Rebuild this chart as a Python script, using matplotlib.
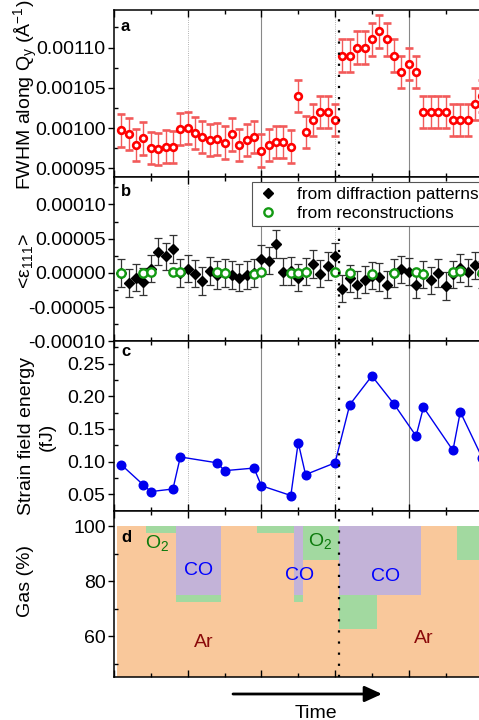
#!/usr/bin/env python3

#################################################################################################
#                                                                                               #
#       plot.py: four stacked panels - fwhm, mean strain, strain energy and gas composition     #
#                                                                                               #
#################################################################################################

import matplotlib as mpl
mpl.use('Agg')

import matplotlib.pyplot as plt
from matplotlib.lines import Line2D
from matplotlib.ticker import FixedLocator, MultipleLocator, FormatStrFormatter

#
#--- panel a: fwhm along qy (one point per time step)
#
a_time = list(range(1, 51))
a_fwhm = [0.000997, 0.000993, 0.000979, 0.000987, 0.000975, 0.000974, 0.000977, 0.000976,
          0.000999, 0.001000, 0.000994, 0.000989, 0.000985, 0.000986, 0.000982, 0.000992,
          0.000979, 0.000985, 0.000989, 0.000972, 0.000979, 0.000983, 0.000983, 0.000977,
          0.001040, 0.000995, 0.001010, 0.001020, 0.001020, 0.001010, 0.001090, 0.001090,
          0.001100, 0.001100, 0.001110, 0.001120, 0.001110, 0.001090, 0.001070, 0.001080,
          0.001070, 0.001020, 0.001020, 0.001020, 0.001020, 0.001010, 0.001010, 0.001010,
          0.001030, 0.001040]
a_err  = 0.00002
#
#--- panel b: mean strain from diffraction patterns and from reconstructions
#
b_time   = list(range(1, 51))
b_strain = [0.0, -1.5e-5, -0.7e-5, -1.3e-5, 0.6e-5, 3.1e-5, 2.4e-5, 3.5e-5, 0.0, 0.6e-5,
            -0.1e-5, -1.2e-5, 0.3e-5, -0.3e-5, 0.0, -0.3e-5, -0.7e-5, -0.3e-5, 0.0, 2.1e-5,
            1.8e-5, 4.2e-5, 0.2e-5, 0.3e-5, -0.7e-5, 0.2e-5, 1.3e-5, -0.1e-5, 1.0e-5, 2.4e-5,
            -2.3e-5, -0.8e-5, -1.7e-5, -1.0e-5, -0.4e-5, -0.6e-5, -1.7e-5, 0.0, 0.5e-5, 0.2e-5,
            -1.7e-5, -0.2e-5, -1.1e-5, 0.0, -1.9e-5, -0.2e-5, 0.7e-5, 0.1e-5, 1.1e-5, -0.2e-5]
b_err    = 0.00002

rec_time   = [1, 4, 5, 8, 9, 14, 15, 19, 20, 24, 25, 26, 30, 32, 35, 38, 41, 42, 46, 47, 50]
rec_strain = [0.0, 0.0, 0.1e-5, 0.1e-5, 0.1e-5, 0.1e-5, 0.0, -0.1e-5, 0.2e-5, 0.0, 0.0,
              0.1e-5, 0.1e-5, 0.0, -0.2e-5, 0.0, 0.1e-5, -0.1e-5, 0.1e-5, 0.3e-5, 0.0]
#
#--- panel c: strain field energy of the reconstructions
#
c_energy = [0.095, 0.064, 0.054, 0.058, 0.107, 0.098, 0.086, 0.090, 0.063, 0.048, 0.129,
            0.080, 0.098, 0.187, 0.231, 0.188, 0.139, 0.183, 0.117, 0.176, 0.105]
#
#--- panel d: gas composition (%) between switching times
#
gas_edges = [0.35, 4.3, 8.4, 14.5, 19.4, 24.4, 25.6, 30.5, 35.7, 41.7, 46.6, 56.0]
gas_ar    = [100, 97.5, 72.5, 100, 97.5, 72.5, 87.5, 62.5, 75, 100, 87.5]
gas_o2    = [0, 2.5, 2.5, 0, 2.5, 2.5, 12.5, 12.5, 0, 0, 12.5]
gas_co    = [0, 0, 25, 0, 0, 25, 0, 25, 25, 0, 0]

gas_names = ['O$_2$', 'CO', 'CO', 'O$_2$', 'CO', 'Ar', 'Ar']
gas_x     = [5.8, 11.5, 25.2, 28.0, 36.8, 12.2, 42.0]
gas_y     = [94.0, 83.8, 82.0, 94.6, 81.7, 57.5, 59.3]

switch_time = 30.5

#----------------------------------------------------------------------------------------------
#-- set_axis: common axis setting for all panels                                             --
#----------------------------------------------------------------------------------------------

def set_axis(ax, tag, tag_y, grid=True):
    """
    set x range, ticks, reference lines and the panel letter
    input:  ax      --- axis
            tag     --- panel letter
            tag_y   --- vertical position of the letter in axes coordinates
            grid    --- draw gray reference lines if True
    output: none
    """
    ax.set_xlim(0, 55)
    ax.xaxis.set_major_locator(MultipleLocator(10))
    ax.xaxis.set_minor_locator(MultipleLocator(5))
    ax.tick_params(axis='x', which='both', direction='in', top=True, bottom=True,
                   labelbottom=False)
    ax.tick_params(axis='x', which='major', length=5, width=1.0)
    ax.tick_params(axis='x', which='minor', length=3, width=1.0)
    ax.tick_params(axis='y', which='major', direction='out', length=4, width=1.0,
                   labelsize=14, pad=2)
    ax.tick_params(axis='y', which='minor', direction='in', length=3, width=1.0)
    ax.spines['right'].set_visible(False)
    for side in ['left', 'top', 'bottom']:
        ax.spines[side].set_linewidth(1.1)

    if grid:
        for pos in [10, 30]:
            ax.axvline(pos, color='#999999', lw=0.6, ls=':', zorder=0)
        for pos in [20, 40]:
            ax.axvline(pos, color='#888888', lw=0.8, ls='-', zorder=0)
#
#--- black dotted line marking the gas switch
#
    ax.axvline(switch_time, color='black', lw=1.6, ls=(0, (1, 4)), zorder=6)

    ax.text(0.017, tag_y, tag, transform=ax.transAxes, fontsize=12, fontweight='bold',
            ha='left', va='center', zorder=7)

#----------------------------------------------------------------------------------------------
#-- plot_data: make the four panel figure                                                    --
#----------------------------------------------------------------------------------------------

def plot_data(outname):
    """
    plot all four panels
    input:  outname --- output png file name
    output: outname
    """
    plt.close('all')
    mpl.rcParams['font.family']      = ['Liberation Sans', 'DejaVu Sans']
    mpl.rcParams['mathtext.default'] = 'regular'

    fig = plt.figure(figsize=(4.79, 7.2), dpi=100)
#
#--- axes extend past the right edge of the picture (as in the original crop)
#
    left  = 0.238
    width = 0.846
    ax_a = fig.add_axes([left, 0.754, width, 0.232])
    ax_b = fig.add_axes([left, 0.526, width, 0.228])
    ax_c = fig.add_axes([left, 0.290, width, 0.236])
    ax_d = fig.add_axes([left, 0.060, width, 0.230])
#
#--- panel a
#
    ax_a.errorbar(a_time, a_fwhm, yerr=a_err, fmt='o', ms=4.8, mfc='white', mec='red',
                  mew=1.9, ecolor='#f25a5a', elinewidth=1.0, capsize=3, capthick=1.0,
                  zorder=3)
    ax_a.set_ylim(0.000939, 0.0011465)
    ax_a.yaxis.set_major_locator(FixedLocator([0.00095, 0.00100, 0.00105, 0.00110]))
    ax_a.yaxis.set_minor_locator(FixedLocator([0.000975, 0.001025, 0.001075, 0.001125]))
    ax_a.yaxis.set_major_formatter(FormatStrFormatter('%.5f'))
    ax_a.set_ylabel('FWHM along Q$_y$ (Å$^{-1}$)', fontsize=14, va='center')
    ax_a.yaxis.set_label_coords(-0.218, 0.49)
    set_axis(ax_a, 'a', 0.904)
#
#--- panel b
#
    ax_b.errorbar(b_time, b_strain, yerr=b_err, fmt='D', ms=5.1, color='black',
                  ecolor='#333333', elinewidth=0.9, capsize=3, capthick=0.9, zorder=3)
    ax_b.plot(rec_time, rec_strain, 'o', ms=6.0, mfc='white', mec='#139a13', mew=1.7,
              zorder=4)
    ax_b.set_ylim(-0.0001, 0.00014)
    ax_b.yaxis.set_major_locator(FixedLocator([-0.0001, -0.00005, 0.0, 0.00005, 0.0001]))
    ax_b.yaxis.set_minor_locator(FixedLocator([-0.000075, -0.000025, 0.000025, 0.000075,
                                               0.000125]))
    ax_b.yaxis.set_major_formatter(FormatStrFormatter('%.5f'))
    ax_b.set_ylabel('<ε$_{111}$>', fontsize=14, va='center')
    ax_b.yaxis.set_label_coords(-0.218, 0.49)
    set_axis(ax_b, 'b', 0.910)

    handles = [Line2D([], [], ls='none', marker='D', ms=5.1, color='black'),
               Line2D([], [], ls='none', marker='o', ms=6.0, mfc='white', mec='#139a13',
                      mew=1.7)]
    leg = ax_b.legend(handles, ['from diffraction patterns', 'from reconstructions'],
                      loc='upper left', bbox_to_anchor=(0.341, 0.972), borderaxespad=0,
                      fontsize=12.4, frameon=True, fancybox=False, framealpha=1,
                      handlelength=1.2, handletextpad=1.1, labelspacing=0.22,
                      borderpad=0.3)
    leg.get_frame().set_edgecolor('#555555')
    leg.get_frame().set_linewidth(0.8)
    leg.set_zorder(8)
#
#--- panel c
#
    ax_c.plot(rec_time, c_energy, '-o', color='#0000ee', lw=1.0, ms=6.2, zorder=3)
    ax_c.set_ylim(0.024, 0.284)
    ax_c.yaxis.set_major_locator(MultipleLocator(0.05))
    ax_c.yaxis.set_minor_locator(FixedLocator([0.025, 0.075, 0.125, 0.175, 0.225, 0.275]))
    ax_c.yaxis.set_major_formatter(FormatStrFormatter('%.2f'))
    ax_c.set_ylabel('Strain field energy\n(fJ)', fontsize=14, va='center',
                    linespacing=1.3)
    ax_c.yaxis.set_label_coords(-0.19, 0.44)
    set_axis(ax_c, 'c', 0.937)
#
#--- panel d: stacked gas fractions
#
    starts = gas_edges[:-1]
    widths = [gas_edges[i + 1] - gas_edges[i] for i in range(len(starts))]
    o2_bot = gas_ar
    co_bot = [gas_ar[i] + gas_o2[i] for i in range(len(starts))]

    ax_d.bar(starts, gas_ar, width=widths, align='edge', color='#f9c89b', lw=0, zorder=1)
    ax_d.bar(starts, gas_o2, width=widths, bottom=o2_bot, align='edge', color='#a2d9a0',
             lw=0, zorder=1)
    ax_d.bar(starts, gas_co, width=widths, bottom=co_bot, align='edge', color='#c3b3d8',
             lw=0, zorder=1)

    gas_color = {'O$_2$': '#0c7a0c', 'CO': '#0000ff', 'Ar': '#8b0a0a'}
    for name, xp, yp in zip(gas_names, gas_x, gas_y):
        ax_d.text(xp, yp, name, color=gas_color[name], fontsize=14, ha='center',
                  va='center', zorder=5)

    ax_d.set_ylim(45.2, 105.4)
    ax_d.yaxis.set_major_locator(MultipleLocator(20))
    ax_d.yaxis.set_minor_locator(FixedLocator([50, 70, 90]))
    ax_d.set_ylabel('Gas (%)', fontsize=14, va='center')
    ax_d.yaxis.set_label_coords(-0.218, 0.58)
    set_axis(ax_d, 'd', 0.84, grid=False)
#
#--- time arrow under the last panel
#
    fig.add_artist(mpl.patches.FancyArrowPatch((233, 26), (382, 26), transform=None,
                   arrowstyle='-|>,head_length=7,head_width=3.2', color='black',
                   lw=2.0, mutation_scale=1.5, shrinkA=0, shrinkB=0))
    fig.text(316 / 479.0, 1 - 713 / 720.0, 'Time', fontsize=14, ha='center',
             va='center')

    fig.savefig(outname, format='png', dpi=100)
    plt.close('all')

#---------------------------------------------------------------------------------------------

if __name__ == '__main__':

    plot_data('out.png')
